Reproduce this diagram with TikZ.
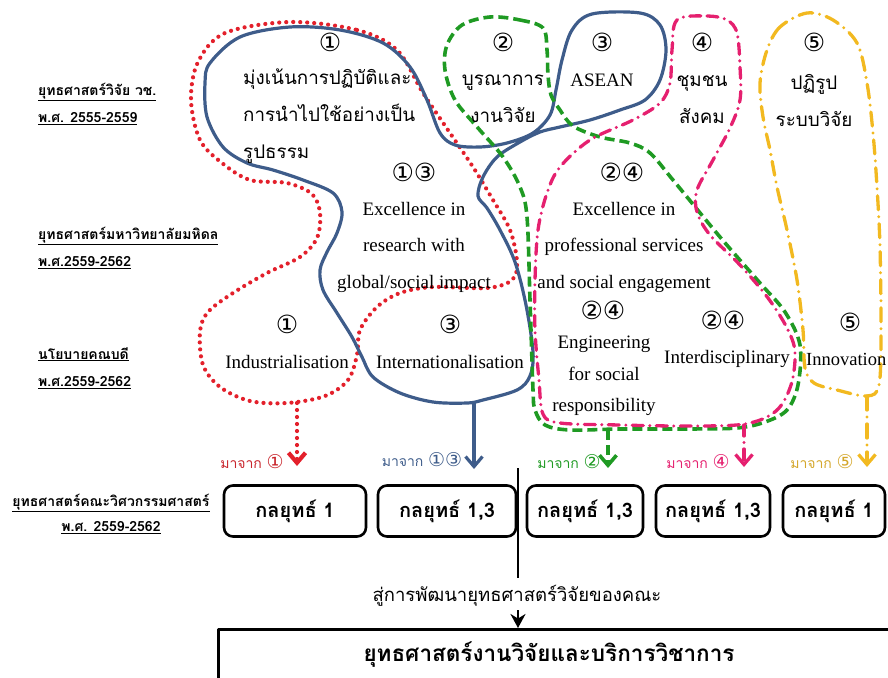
\documentclass[tikz,border=0pt]{standalone}
\usepackage{fontspec}
\usetikzlibrary{arrows.meta}
\setmainfont{Liberation Serif}
\newfontfamily\thaifont[Script=Thai]{Loma}
\newfontfamily\circfont{DejaVu Sans}
\definecolor{cRed}{HTML}{E3202B}
\definecolor{cBlue}{HTML}{3E5C8A}
\definecolor{cGreen}{HTML}{1F9A23}
\definecolor{cPink}{HTML}{E5206F}
\definecolor{cGold}{HTML}{F2B920}
\definecolor{cGoldText}{HTML}{D4A62A}
\definecolor{cRedText}{HTML}{C8242B}
\begin{document}
\begin{tikzpicture}[x=1pt,y=-1pt,line join=round,
  num/.style={font=\circfont\fontsize{25}{25}\selectfont, inner sep=0pt},
  thtext/.style={font=\thaifont\fontsize{18.8}{37}\selectfont, align=center, inner sep=0pt},
  entext/.style={font=\fontsize{19}{36.5}\selectfont, align=center, inner sep=0pt},
  lefthead/.style={font=\thaifont\bfseries\fontsize{14}{27.5}\selectfont, align=left, inner sep=0pt, anchor=west},
  stratbox/.style={draw=black, line width=2.6pt, rounded corners=9pt, minimum height=51pt,
    font=\thaifont\bfseries\fontsize{20}{20}\selectfont, inner sep=0pt},
  fromlabel/.style={font=\thaifont\fontsize{14}{14}\selectfont, inner sep=0pt},
  redloop/.style={cRed, line width=4.2pt, line cap=round, dash pattern=on 0pt off 7pt},
  blueloop/.style={cBlue, line width=3.2pt},
  greenloop/.style={cGreen, line width=3.6pt, dash pattern=on 10pt off 5pt},
  pinkloop/.style={cPink, line width=3.3pt, line cap=round, dash pattern=on 11pt off 6.5pt on 0pt off 6.5pt},
  goldloop/.style={cGold, line width=3.3pt, line cap=round, dash pattern=on 14pt off 7pt on 0pt off 7pt},
  downtip/.style={-{Straight Barb[length=10pt,width=17pt]}}
]
\useasboundingbox (0,0) rectangle (888,677);

% ---- grouping loops ----
\draw[redloop] plot[smooth cycle, tension=0.55] coordinates {
  (290,22) (357,30) (397,50) (423,93) (450,133) (473,167) (493,200) (510,230)
  (517,262) (512,280) (487,288) (433,287) (400,293) (377,307) (360,330) (357,355)
  (348,380) (325,396) (287,403) (250,401) (220,387) (203,365) (200,332) (208,312)
  (233,293) (267,273) (300,257) (317,238) (320,213) (312,194) (287,183) (250,180)
  (222,163) (200,140) (191,100) (198,62) (225,33)};

\draw[blueloop] plot[smooth cycle, tension=0.55] coordinates {
  (210,63) (240,37) (290,27) (340,30) (383,43) (410,67) (427,100) (440,133)
  (455,145) (480,147) (507,143) (533,133) (550,115) (556,90) (562,60) (572,30)
  (592,14) (640,13) (660,25) (666,50) (660,80) (645,100) (620,110) (590,120)
  (560,127) (540,132) (520,142) (497,157) (483,177) (478,196) (487,208) (500,230)
  (515,262) (526,305) (533,352) (530,376) (517,390) (483,400) (467,403) (433,402)
  (400,393) (373,377) (362,357) (352,337) (337,313) (323,290) (320,270) (327,252)
  (337,233) (342,212) (333,193) (303,180) (273,170) (247,163) (223,147) (207,117)
  (205,83)};

\draw[greenloop] plot[smooth cycle, tension=0.55] coordinates {
  (490,17) (520,20) (543,28) (547,50) (548,75) (551,95) (560,110) (573,126)
  (600,137) (630,143) (650,153) (673,180) (720,237) (760,283) (785,312) (800,345)
  (798,385) (787,410) (765,422) (737,428) (687,429) (620,429) (570,430) (545,425)
  (535,410) (533,390) (530,300) (527,217) (520,187) (503,157) (478,128) (455,100)
  (445,70) (447,45) (462,25)};

\draw[pinkloop] plot[smooth cycle, tension=0.55] coordinates {
  (677,20) (707,16) (727,20) (737,33) (740,67) (740,100) (730,128) (713,160)
  (697,190) (697,212) (710,235) (740,265) (768,298) (787,328) (795,352) (791,385)
  (776,411) (745,424) (687,426) (620,425) (560,423) (543,414) (539,380) (535,330)
  (535,280) (538,230) (547,193) (560,167) (590,140) (633,120) (660,103) (670,83)
  (672,50)};

\draw[goldloop] plot[smooth cycle, tension=0.55] coordinates {
  (807,13) (780,27) (767,50) (760,83) (763,117) (770,150) (777,187) (787,230)
  (797,280) (803,330) (805,368) (814,383) (837,390) (867,396) (879,385) (881,330)
  (880,247) (877,187) (873,133) (867,83) (857,43) (833,20)};

% ---- top row ----
\node[num] (n1) at (330,42) {①};
\node[thtext, align=left, anchor=west] (t1) at (243,116) {มุ่งเน้นการปฏิบัติและ\\การนำไปใช้อย่างเป็น\\รูปธรรม};
\node[num] (n2) at (503,42) {②};
\node[thtext] (t2) at (503,99) {บูรณาการ\\งานวิจัย};
\node[num] (n3) at (602,42) {③};
\node[entext] (t3) at (602,80) {ASEAN};
\node[num] (n4) at (702,42) {④};
\node[thtext] (t4) at (702,100) {ชุมชน\\สังคม};
\node[num] (n5) at (814,42) {⑤};
\node[thtext] (t5) at (814,100) {ปฏิรูป\\ระบบวิจัย};

% ---- middle row ----
\node[num] (n13) at (414,172) {①③};
\node[entext] (m1) at (414,247) {Excellence in\\research with\\global/social impact};
\node[num] (n24a) at (622,172) {②④};
\node[entext] (m2) at (624,247) {Excellence in\\professional services\\and social engagement};

% ---- lower row ----
\node[num] (b1n) at (287,324) {①};
\node[entext] (b1) at (287,362) {Industrialisation};
\node[num] (b3n) at (450,324) {③};
\node[entext] (b3) at (450,362) {Internationalisation};
\node[num] (b2n) at (603,310) {②④};
\node[entext, font=\fontsize{19}{31.5}\selectfont] (b2) at (604,376) {Engineering\\for social\\responsibility};
\node[num] (b4n) at (723,320) {②④};
\node[entext] (b4) at (727,359) {Interdisciplinary};
\node[num] (b5n) at (850,322) {⑤};
\node[entext, anchor=west, font=\fontsize{18.5}{18.5}\selectfont] (b5) at (806,359) {Innovation};

% ---- row headings ----
\node[lefthead] (h1) at (38,104) {\underline{ยุทธศาสตร์วิจัย วช.}\\\underline{พ.ศ. 2555-2559}};
\node[lefthead] (h2) at (38,248) {\underline{ยุทธศาสตร์มหาวิทยาลัยมหิดล}\\\underline{พ.ศ.2559-2562}};
\node[lefthead] (h3) at (38,368) {\underline{นโยบายคณบดี}\\\underline{พ.ศ.2559-2562}};
\node[lefthead, anchor=center, align=center, font=\thaifont\bfseries\fontsize{14}{25}\selectfont] (h4) at (111,514) {\underline{ยุทธศาสตร์คณะวิศวกรรมศาสตร์}\\\underline{พ.ศ. 2559-2562}};

% ---- faculty strategy boxes ----
\node[stratbox, minimum width=142pt] (s1) at (295,511) {กลยุทธ์ 1};
\node[stratbox, minimum width=138pt] (s2) at (447,511) {กลยุทธ์ 1,3};
\node[stratbox, minimum width=116pt] (s3) at (585,511) {กลยุทธ์ 1,3};
\node[stratbox, minimum width=114pt] (s4) at (713,511) {กลยุทธ์ 1,3};
\node[stratbox, minimum width=102pt] (s5) at (834,511) {กลยุทธ์ 1};

% ---- source labels ----
\node[fromlabel, text=cRedText] (f1) at (252,462) {มาจาก {\fontsize{19}{19}\circfont ①}};
\node[fromlabel, text=cBlue] (f2) at (422,460) {มาจาก {\fontsize{19}{19}\circfont ①③}};
\node[fromlabel, text=cGreen] (f3) at (569,462) {มาจาก {\fontsize{19}{19}\circfont ②}};
\node[fromlabel, text=cPink] (f4) at (698,462) {มาจาก {\fontsize{19}{19}\circfont ④}};
\node[fromlabel, text=cGoldText] (f5) at (822,462) {มาจาก {\fontsize{19}{19}\circfont ⑤}};

% ---- arrows from the groups ----
\coordinate (redfoot) at (297,403);   \coordinate (redtip) at (297,466);
\coordinate (bluefoot) at (474,403);  \coordinate (bluetip) at (474,469);
\coordinate (greenfoot) at (608,430); \coordinate (greentip) at (608,468);
\coordinate (pinkfoot) at (744,425);  \coordinate (pinktip) at (744,467);
\coordinate (goldfoot) at (867,396);  \coordinate (goldtip) at (867,467);
\draw[redloop, downtip] (redfoot) -- (redtip);
\draw[blueloop, downtip] (bluefoot) -- (bluetip);
\draw[greenloop, downtip] (greenfoot) -- (greentip);
\draw[pinkloop, downtip] (pinkfoot) -- (pinktip);
\draw[goldloop, downtip] (goldfoot) -- (goldtip);

% ---- flow into the research strategy ----
\node[draw=black, line width=2.6pt, minimum width=690pt, minimum height=70pt, anchor=north west,
  inner sep=0pt] (res) at (217,628) {};
\node[font=\thaifont\bfseries\fontsize{22.5}{22.5}\selectfont, inner sep=0pt] (restext) at (549,655) {ยุทธศาสตร์งานวิจัยและบริการวิชาการ};
\coordinate (flowtop) at (518,468);
\coordinate (flowbot) at (518,578);
\draw[line width=2.6pt] (flowtop) -- (flowbot);
\node[font=\thaifont\fontsize{18.5}{18.5}\selectfont, inner sep=0pt] (dev) at (517,596) {สู่การพัฒนายุทธศาสตร์วิจัยของคณะ};
\coordinate (devarrow) at (518,610);
\draw[line width=2.4pt, -{Stealth[length=14pt,width=15pt]}] (devarrow) -- (devarrow |- res.north);
\end{tikzpicture}
\end{document}
